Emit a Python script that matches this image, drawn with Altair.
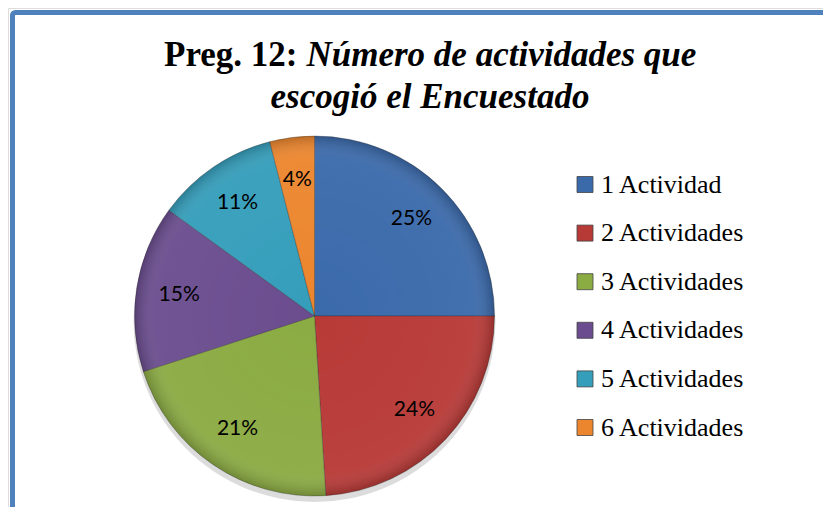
import altair as alt
import pandas as pd

categories = ["1 Actividad", "2 Actividades", "3 Actividades", "4 Actividades", "5 Actividades", "6 Actividades"]
values = [25, 24, 21, 15, 11, 4]
labels = ["25%", "24%", "21%", "15%", "11%", "4%"]
colors = ["#3B6AAB", "#B83A37", "#8BAB43", "#6B4D8F", "#359EBB", "#EC862E"]

df = pd.DataFrame({"cat": categories, "val": values, "lab": labels, "idx": list(range(len(values)))})

CX, CY, R = 306.5, 308, 180

color_scale = alt.Scale(domain=categories, range=colors)

base = alt.Chart(df)

shadow = alt.Chart(pd.DataFrame({"a": [0]})).mark_arc(
    radius=R + 1, fill="#9a9a9a", opacity=0.35
).encode(
    x=alt.value(CX), y=alt.value(CY + 5),
    theta=alt.value(0), theta2=alt.value(6.2832)
)

pie = base.mark_arc(radius=R, stroke="#2a2a2a", strokeWidth=0.7, strokeOpacity=0.45).encode(
    x=alt.value(CX), y=alt.value(CY),
    theta=alt.Theta("val:Q", stack=True),
    color=alt.Color(
        "cat:N", scale=color_scale, sort=categories,
        legend=alt.Legend(
            title=None, orient="none", legendX=564, legendY=163.5,
            symbolType="square", symbolSize=256, symbolStrokeWidth=0.8,
            symbolStrokeColor="#444", symbolOpacity=1,
            labelFont="Liberation Serif", labelFontSize=26, labelColor="#000",
            labelOffset=3, labelLimit=300, rowPadding=22.6, padding=0,
        ),
    ),
    order=alt.Order("idx:Q"),
)

bevel = alt.Chart(pd.DataFrame({"a": [0]})).mark_arc(
    radius=R,
    fill=alt.Gradient(
        gradient="radial",
        stops=[
            alt.GradientStop(offset=0, color="rgba(255,255,255,0)"),
            alt.GradientStop(offset=0.88, color="rgba(255,255,255,0.04)"),
            alt.GradientStop(offset=1, color="rgba(0,0,0,0.2)"),
        ],
    ),
).encode(
    x=alt.value(CX), y=alt.value(CY),
    theta=alt.value(0), theta2=alt.value(6.2832)
)

text = base.mark_text(radius=137, font="Lato", fontSize=21, color="#000").encode(
    x=alt.value(CX), y=alt.value(CY),
    theta=alt.Theta("val:Q", stack=True),
    text="lab:N",
    order=alt.Order("idx:Q"),
)

one = pd.DataFrame({"a": [0]})
t1 = alt.Chart(one).mark_text(
    text="Preg. 12:", font="Liberation Serif", fontSize=35, fontWeight="bold",
    align="right", baseline="alphabetic", color="#000"
).encode(x=alt.value(289.5), y=alt.value(58))
t2 = alt.Chart(one).mark_text(
    text="Número de actividades que", font="Liberation Serif", fontSize=35, fontWeight="bold",
    fontStyle="italic", align="left", baseline="alphabetic", color="#000"
).encode(x=alt.value(298.5), y=alt.value(58))
t3 = alt.Chart(one).mark_text(
    text="escogió el Encuestado", font="Liberation Serif", fontSize=35, fontWeight="bold",
    fontStyle="italic", align="center", baseline="alphabetic", color="#000"
).encode(x=alt.value(422), y=alt.value(100))

border = alt.Chart(one).mark_rect(
    fillOpacity=0, stroke="#4F81BD", strokeWidth=5, cornerRadius=3
).encode(x=alt.value(4.5), y=alt.value(4.5), x2=alt.value(900), y2=alt.value(700))

chart = alt.layer(border, shadow, pie, bevel, text, t1, t2, t3).properties(
    width=815, height=499,
    autosize=alt.AutoSizeParams(type="none"),
    padding=0,
).configure_view(stroke=None).configure(background="white")

chart.save("out.html", embed_options={"renderer": "svg", "actions": False})
